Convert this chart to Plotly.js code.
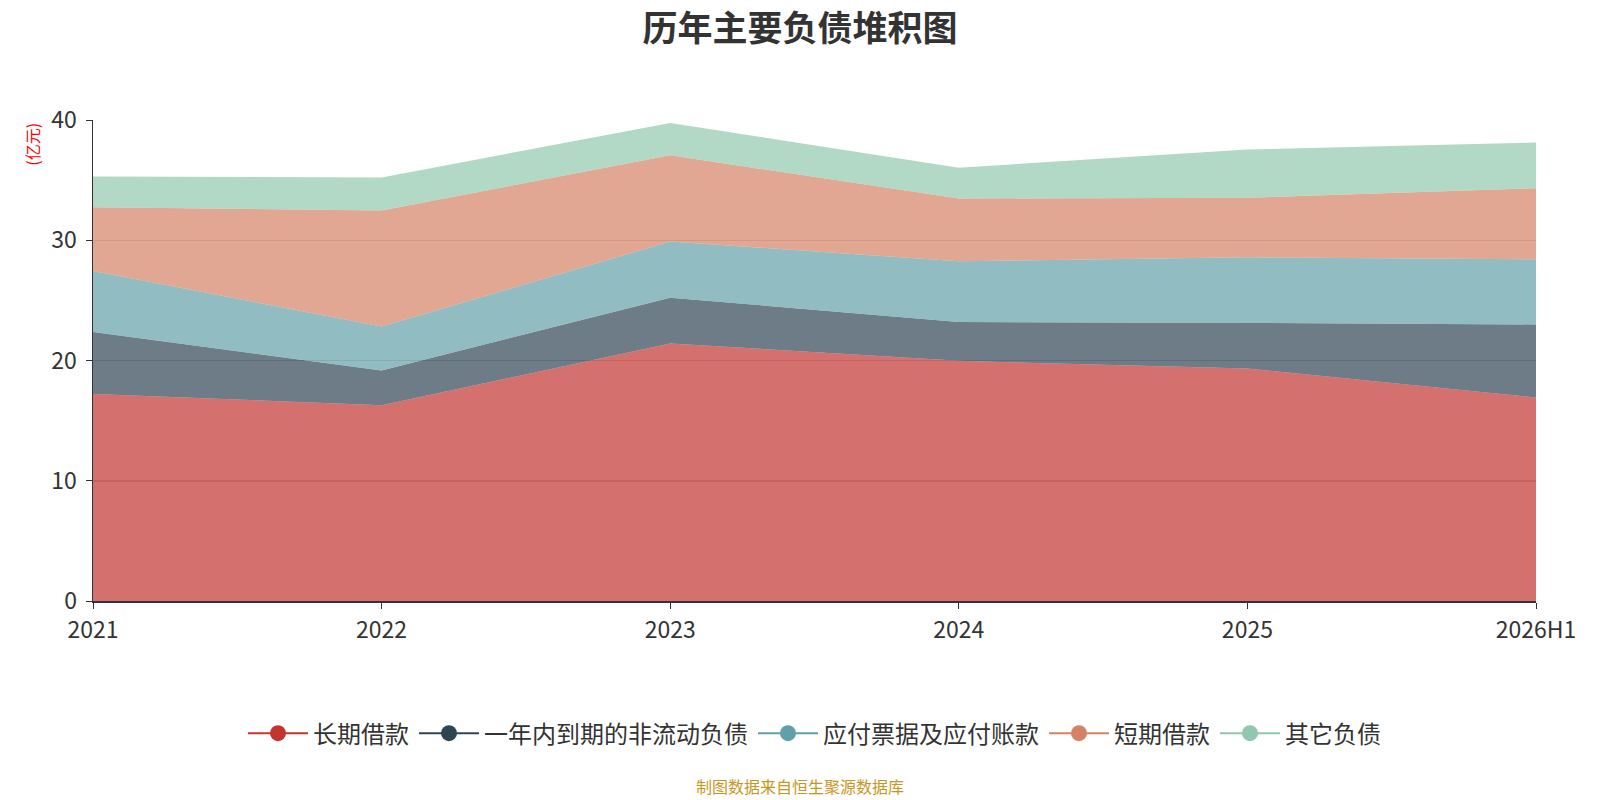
<!DOCTYPE html>
<html>
<head>
<meta charset="utf-8">
<script src="https://cdn.plot.ly/plotly-3.0.1.min.js"></script>
<style>
  html, body { margin: 0; padding: 0; background: #fff; }
  #chart { width: 1600px; height: 800px; }
</style>
</head>
<body>
<div id="chart"></div>
<script>
// Categories and series (亿元)
const years = ['2021', '2022', '2023', '2024', '2025', '2026H1'];
const longLoans = [17.22, 16.28, 21.42, 19.97, 19.33, 16.92];     // 长期借款
const currentNonCurrent = [5.15, 2.89, 3.80, 3.23, 3.79, 6.08];   // 一年内到期的非流动负债
const payables = [5.08, 3.66, 4.67, 5.05, 5.46, 5.42];            // 应付票据及应付账款
const shortLoans = [5.30, 9.64, 7.17, 5.22, 4.95, 5.91];          // 短期借款
const otherLiab = [2.55, 2.75, 2.69, 2.56, 4.02, 3.79];           // 其它负债

const seriesNames = ['长期借款', '一年内到期的非流动负债', '应付票据及应付账款', '短期借款', '其它负债'];
const seriesValues = [longLoans, currentNonCurrent, payables, shortLoans, otherLiab];
const colors = ['#c23531', '#2f4554', '#61a0a8', '#d48265', '#91c7ae'];

const font = '"Noto Sans CJK SC", "Noto Sans", sans-serif';

function hexToRgba(hex, a) {
    const n = parseInt(hex.slice(1), 16);
    return `rgba(${(n >> 16) & 255},${(n >> 8) & 255},${n & 255},${a})`;
}

const traces = [];

// Stacked areas
seriesValues.forEach((vals, i) => {
    traces.push({
        x: years,
        y: vals,
        type: 'scatter',
        mode: 'lines',
        stackgroup: 'one',
        name: seriesNames[i],
        line: { width: 0, color: colors[i] },
        fillcolor: hexToRgba(colors[i], 0.7),
        showlegend: false,
        hoverinfo: 'x+y+name'
    });
});

// Legend-only traces (line + circle marker)
seriesNames.forEach((name, i) => {
    traces.push({
        x: [null],
        y: [null],
        type: 'scatter',
        mode: 'lines+markers',
        name: name,
        line: { color: colors[i], width: 2 },
        marker: { color: colors[i], size: 16 },
        showlegend: true
    });
});

const layout = {
    width: 1600,
    height: 800,
    paper_bgcolor: '#fff',
    plot_bgcolor: '#fff',
    font: { family: font, color: '#333' },
    margin: { l: 93, r: 64, t: 120, b: 199 },
    title: {
        text: '<b>历年主要负债堆积图</b>',
        font: { family: font, size: 35, color: '#333' },
        x: 0.5,
        xanchor: 'center',
        y: 1 - 29 / 800,
        yanchor: 'middle'
    },
    xaxis: {
        type: 'category',
        categoryorder: 'array',
        categoryarray: years,
        range: [0, years.length - 1],
        showgrid: false,
        showline: true,
        linecolor: '#333',
        linewidth: 1.5,
        ticks: 'outside',
        ticklen: 6,
        tickcolor: '#333',
        ticklabelstandoff: 2,
        tickfont: { family: font, size: 23, color: '#333' },
        zeroline: false,
        fixedrange: true
    },
    yaxis: {
        range: [0, 40],
        dtick: 10,
        showgrid: true,
        gridcolor: '#cccccc',
        gridwidth: 1.5,
        showline: true,
        linecolor: '#333',
        linewidth: 1.5,
        ticks: 'outside',
        ticklen: 6,
        tickcolor: '#333',
        ticklabelstandoff: 4,
        tickfont: { family: font, size: 23, color: '#333' },
        zeroline: false,
        fixedrange: true
    },
    showlegend: true,
    legend: {
        orientation: 'h',
        traceorder: 'normal',
        x: 0.5,
        xanchor: 'center',
        y: (600.7 - 733) / 480,
        yanchor: 'middle',
        font: { family: font, size: 24, color: '#333' },
        itemsizing: 'trace',
        itemwidth: 60,
        bgcolor: 'rgba(0,0,0,0)'
    },
    annotations: [
        {
            text: '(亿元)',
            xref: 'paper',
            yref: 'paper',
            x: (32 - 92.7) / 1443.3,
            y: (600.7 - 145) / 480,
            xanchor: 'center',
            yanchor: 'middle',
            textangle: -90,
            showarrow: false,
            font: { family: font, size: 16, color: '#ff0000' }
        },
        {
            text: '制图数据来自恒生聚源数据库',
            xref: 'paper',
            yref: 'paper',
            x: (800 - 93) / 1443,
            y: (600.7 - 785) / 480,
            xanchor: 'center',
            yanchor: 'middle',
            showarrow: false,
            font: { family: font, size: 16, color: '#c8961e' }
        }
    ]
};

Plotly.newPlot('chart', traces, layout, { displayModeBar: false, staticPlot: true });
</script>
</body>
</html>
